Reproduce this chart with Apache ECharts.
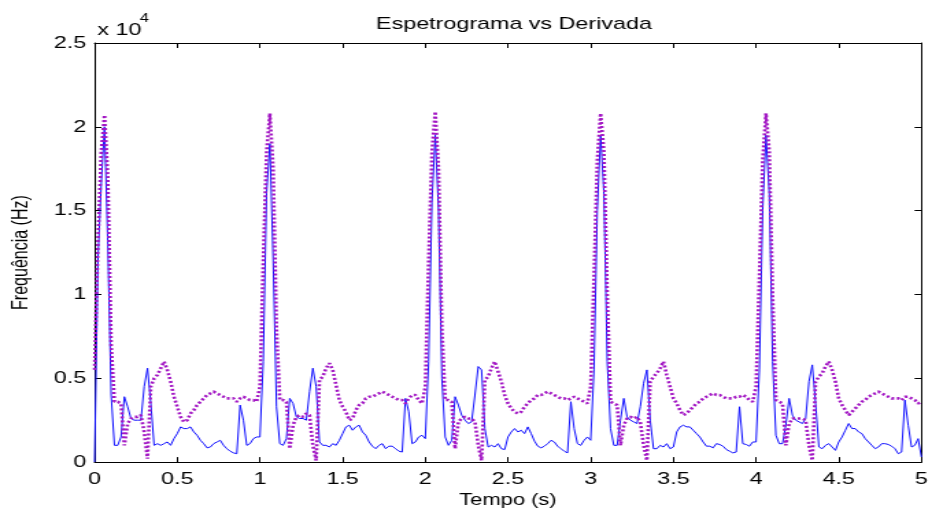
<!DOCTYPE html>
<html>
<head>
<meta charset="utf-8">
<title>Espetrograma vs Derivada</title>
<style>
html, body { margin: 0; padding: 0; background: #fff; overflow: hidden; }
/* the original figure is stretched sideways, so draw narrow and stretch */
#main { width: 680px; height: 514px; transform: scaleX(1.3706); transform-origin: 0 0; }
</style>
</head>
<body>
<div id="main"></div>

<script src="https://cdn.jsdelivr.net/npm/echarts@6.0.0/dist/echarts.min.js"></script>
<script type="text/javascript">
// one array per beat, sampled every 0.02 s (Hz)
var blue1 = [0,12000,16500,20000,13000,4000,1000,1000,1500,3900,
             3300,2600,2500,2500,2500,4500,5600,3500,1000,1100,
             1000,1100,1200,1000,1400,1700,2100,2000,2000,2100,
             1800,1600,1300,1100,850,900,1100,1200,1300,1000,
             800,650,550,500,3400,2500,1000,1100,1400,1500];
var blue2 = [1500,6000,16000,19000,12000,3300,1100,1000,1400,3800,
             3500,2700,2600,2600,2500,4200,5600,4500,1200,1000,
             1000,900,1100,1000,1300,1700,2100,2200,1900,2100,
             2200,1800,1600,1200,950,800,1000,1100,800,950,
             950,800,650,600,3800,3000,1100,1200,1500,1600];
var blue3 = [1400,6000,15500,19500,15000,5000,1500,1000,1300,3900,
             3400,2800,2500,2300,2400,4000,5700,5500,2000,900,
             1000,900,1100,800,750,1500,1800,2000,1800,1900,
             1700,2100,1700,1250,950,850,950,1100,1300,1200,
             950,800,650,550,3600,2000,1100,1000,1300,1500];
var blue4 = [1300,5500,15000,19500,16000,6000,2000,1000,1000,2500,
             3800,2700,2500,2400,2300,3300,4700,5500,2500,800,
             800,1000,900,1100,800,900,1800,2100,2200,2100,
             2100,1900,1700,1500,1200,950,950,850,1100,1050,
             950,750,650,550,600,3300,1100,1050,950,1200];
var blue5 = [1200,5500,15000,19500,16000,6000,1600,1100,1100,2200,
             3800,2800,2500,2400,2300,2600,4800,5800,3500,900,
             800,1000,1100,900,700,1200,1500,1900,2300,2000,
             2000,1800,1700,1400,1200,1000,800,900,1100,1100,
             1050,950,800,500,600,3700,2200,900,1000,1400];
var blueEnd = 300;

var mag1 = [5500,13000,18500,20700,17000,7000,3600,3600,3500,1000,
            2300,2600,2700,2700,2800,1800,200,4500,5000,5200,
            5600,6000,5500,4800,3900,3300,2700,2400,2500,2900,
            3100,3400,3600,3800,4000,4100,4200,4100,4000,3900,
            3800,3800,3800,3600,3800,3900,3800,3700,3700,3600];
var mag2 = [4500,12000,18500,20800,17500,8000,3700,3700,3600,800,
            2200,2700,2800,2700,2900,2800,1000,100,4900,5100,
            5600,5900,5500,4600,3700,3300,3000,2500,2600,3100,
            3400,3500,3800,3900,3900,4000,4100,4200,4100,4000,
            3900,3800,3700,3700,3500,3800,4000,4000,3700,3500];
var mag3 = [4500,12000,18500,20900,17500,8000,3700,3700,3600,800,
            2400,2600,2700,2600,2600,2400,1000,100,4900,5100,
            5600,6000,5400,4800,4000,3500,3200,3000,2900,3000,
            3300,3500,3700,3800,4000,4000,4100,4200,4100,4000,
            3900,3800,3800,3700,3800,3900,3800,3700,3600,3500];
var mag4 = [4500,11000,18000,20800,18500,10000,3600,3500,3400,1000,
            2200,2600,2700,2600,2700,2400,1000,100,4800,5100,
            5300,5600,6000,5200,4500,3800,3500,3100,2800,2900,
            3100,3300,3500,3600,3800,3900,4000,4100,4000,4000,
            3900,3800,3800,3800,3900,3900,4000,3900,3700,3600];
var mag5 = [4500,11000,18000,20800,18500,10000,3700,3600,3500,1000,
            2300,2600,2600,2600,2600,2500,1000,100,4800,5100,
            5300,5700,6000,5500,4800,3800,3400,3100,2800,3000,
            3200,3400,3600,3700,3900,4000,4100,4200,4100,4000,
            3900,3800,3800,3800,3700,3900,3900,3800,3700,3500];
var magEnd = 3600;

var xTicks = [0, 0.5, 1, 1.5, 2, 2.5, 3, 3.5, 4, 4.5, 5];
var yTicks = [0, 5000, 10000, 15000, 20000, 25000];

// [tempo, valor] pairs
function beatPoints(k, arr) {
    return arr.map(function (v, i) {
        return [+(k + i * 0.02).toFixed(2), v];
    });
}
var blueData = [].concat(beatPoints(0, blue1), beatPoints(1, blue2), beatPoints(2, blue3),
                         beatPoints(3, blue4), beatPoints(4, blue5), [[5, blueEnd]]);
var magData = [].concat(beatPoints(0, mag1), beatPoints(1, mag2), beatPoints(2, mag3),
                        beatPoints(3, mag4), beatPoints(4, mag5), [[5, magEnd]]);

var font = 'Liberation Sans, Arial, sans-serif';
var xStep = xTicks[1] - xTicks[0];
var yStep = yTicks[1] - yTicks[0];

function xAxisCfg(pos, showLabel) {
    return {
        type: 'value', position: pos,
        min: xTicks[0], max: xTicks[xTicks.length - 1], interval: xStep,
        axisLine: { show: true, onZero: false, lineStyle: { color: '#000', width: 1 } },
        axisTick: { show: true, inside: true, length: 5, lineStyle: { color: '#000' } },
        axisLabel: { show: showLabel, color: '#000', fontSize: 17, fontFamily: font, margin: 9 },
        splitLine: { show: false }
    };
}
function yAxisCfg(pos, showLabel) {
    return {
        type: 'value', position: pos,
        min: yTicks[0], max: yTicks[yTicks.length - 1], interval: yStep,
        axisLine: { show: true, onZero: false, lineStyle: { color: '#000', width: 1 } },
        axisTick: { show: true, inside: true, length: 5, lineStyle: { color: '#000' } },
        axisLabel: {
            show: showLabel, color: '#000', fontSize: 17, fontFamily: font, margin: 6,
            formatter: function (v) { return String(v / 10000); }
        },
        splitLine: { show: false }
    };
}

var myChart = echarts.init(document.getElementById('main'));

var xBottom = xAxisCfg('bottom', true);
xBottom.name = 'Tempo (s)';
xBottom.nameLocation = 'middle';
xBottom.nameGap = 27;
xBottom.nameTextStyle = { color: '#000', fontSize: 16, fontFamily: font };

var yLeft = yAxisCfg('left', true);
yLeft.name = 'Frequência (Hz)';
yLeft.nameLocation = 'middle';
yLeft.nameGap = 45;
yLeft.nameTextStyle = { color: '#000', fontSize: 16, fontFamily: font };

var option = {
    animation: false,
    backgroundColor: '#fff',
    title: {
        text: 'Espetrograma vs Derivada',
        left: 370, top: 11, textAlign: 'center',
        textStyle: { color: '#000', fontSize: 17, fontWeight: 'normal', fontFamily: font }
    },
    graphic: [
        { type: 'text', left: 71, top: 22, style: { text: 'x 10', fill: '#000', fontSize: 17, fontFamily: font } },
        { type: 'text', left: 102, top: 13, style: { text: '4', fill: '#000', fontSize: 12, fontFamily: font } }
    ],
    grid: { left: 69, right: 5, top: 43, bottom: 48 },
    xAxis: [xBottom, xAxisCfg('top', false)],
    yAxis: [yLeft, yAxisCfg('right', false)],
    series: [
        {
            name: 'Espetrograma', type: 'line', data: blueData,
            xAxisIndex: 0, yAxisIndex: 0,
            showSymbol: false,
            lineStyle: { color: '#1010ff', width: 1 }
        },
        {
            name: 'Derivada', type: 'line', data: magData,
            xAxisIndex: 0, yAxisIndex: 0,
            showSymbol: false,
            lineStyle: { color: '#a318c4', width: 2.6, type: [2, 2], cap: 'butt' }
        }
    ]
};

myChart.setOption(option);
</script>
</body>
</html>
